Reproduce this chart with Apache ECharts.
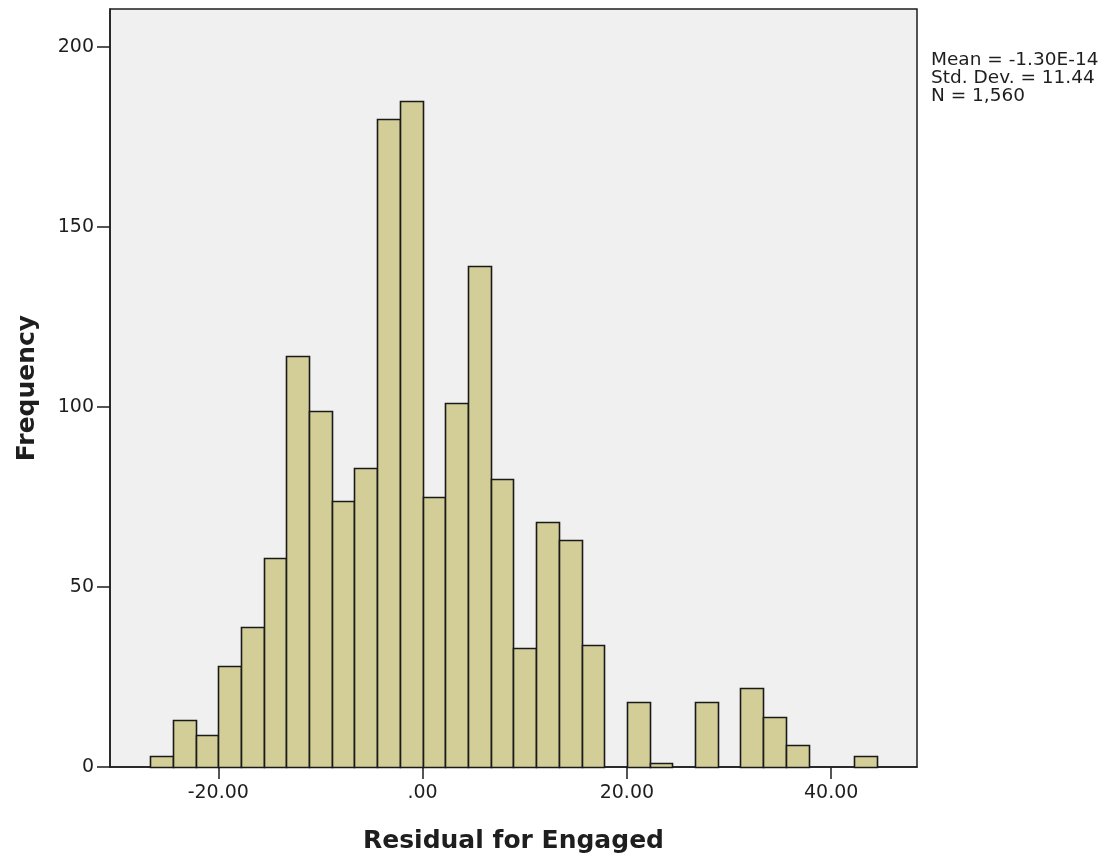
<!DOCTYPE html>
<html>
<head>
<meta charset="utf-8">
<title>Residual for Engaged</title>
<script src="https://cdn.jsdelivr.net/npm/echarts@6/dist/echarts.min.js"></script>
<style>
  html, body { margin: 0; padding: 0; background: #ffffff; }
  #chart { width: 1110px; height: 865px; }
</style>
</head>
<body>
<div id="chart"></div>
<script>
// Histogram bins: lower and upper edges of each bin, and the count in it
const binLower = [-26.67, -24.44, -22.22, -20.00, -17.78, -15.56, -13.33, -11.11,
                  -8.89, -6.67, -4.44, -2.22, 0.00, 2.22, 4.44, 6.67,
                  8.89, 11.11, 13.33, 15.56, 17.78, 20.00, 22.22, 24.44,
                  26.67, 28.89, 31.11, 33.33, 35.56, 37.78, 40.00, 42.22];
const binUpper = [-24.44, -22.22, -20.00, -17.78, -15.56, -13.33, -11.11, -8.89,
                  -6.67, -4.44, -2.22, 0.00, 2.22, 4.44, 6.67, 8.89,
                  11.11, 13.33, 15.56, 17.78, 20.00, 22.22, 24.44, 26.67,
                  28.89, 31.11, 33.33, 35.56, 37.78, 40.00, 42.22, 44.44];
const frequency = [3, 13, 9, 28, 39, 58, 114, 99,
                   74, 83, 180, 185, 75, 101, 139, 80,
                   33, 68, 63, 34, 0, 18, 1, 0,
                   18, 0, 22, 14, 6, 0, 0, 3];

// Axis ticks
const xTicks = [-20, 0, 20, 40];
const yTicks = [0, 50, 100, 150, 200];

// Summary statistics printed beside the plot
const statLines = ['Mean = -1.30E-14', 'Std. Dev. = 11.44', 'N = 1,560'];

const FONT = '"DejaVu Sans", "Liberation Sans", Arial, sans-serif';
const INK = '#1e1e1e';

const histData = binLower.map((lo, i) => [lo, binUpper[i], frequency[i]]);

const chart = echarts.init(document.getElementById('chart'), null, { renderer: 'canvas' });

chart.setOption({
  animation: false,
  backgroundColor: '#ffffff',
  grid: {
    left: 110, right: 193, top: 9, bottom: 98,
    show: true,
    backgroundColor: '#f0f0f0',
    borderColor: INK,
    borderWidth: 1.5
  },
  xAxis: {
    type: 'value',
    min: -30.6,
    max: 48.4,
    name: 'Residual for Engaged',
    nameLocation: 'middle',
    nameGap: 62,
    nameTextStyle: { fontFamily: FONT, fontSize: 25, fontWeight: 'bold', color: INK },
    splitLine: { show: false },
    axisLine: { show: true, onZero: false, lineStyle: { color: INK, width: 1.5 } },
    axisTick: {
      show: true, length: 12, inside: false,
      customValues: xTicks,
      lineStyle: { color: INK, width: 1.5 }
    },
    axisLabel: {
      customValues: xTicks,
      margin: 17,
      fontFamily: FONT, fontSize: 19, color: INK,
      formatter: v => (v === 0 ? '.00' : v.toFixed(2))
    }
  },
  yAxis: {
    type: 'value',
    min: 0,
    max: 210.5,
    name: 'Frequency',
    nameLocation: 'middle',
    nameGap: 70,
    nameRotate: 90,
    nameTextStyle: { fontFamily: FONT, fontSize: 25, fontWeight: 'bold', color: INK },
    splitLine: { show: false },
    axisLine: { show: true, onZero: false, lineStyle: { color: INK, width: 1.5 } },
    axisTick: {
      show: true, length: 13, inside: false,
      customValues: yTicks,
      lineStyle: { color: INK, width: 1.5 }
    },
    axisLabel: {
      customValues: yTicks,
      margin: 16,
      fontFamily: FONT, fontSize: 19, color: INK
    }
  },
  graphic: [{
    type: 'text',
    left: 931,
    top: 51,
    style: {
      text: statLines.join('\n'),
      fontFamily: FONT,
      fontSize: 18.5,
      lineHeight: 18,
      fill: INK
    }
  }],
  series: [{
    type: 'custom',
    data: histData,
    encode: { x: [0, 1], y: 2 },
    renderItem: function (params, api) {
      const count = api.value(2);
      if (!count) return null;
      const p0 = api.coord([api.value(0), 0]);
      const p1 = api.coord([api.value(1), count]);
      return {
        type: 'rect',
        shape: {
          x: Math.round(p0[0]) + 0.5,
          y: Math.round(p1[1]) + 0.5,
          width: Math.round(p1[0]) - Math.round(p0[0]),
          height: Math.round(p0[1]) - Math.round(p1[1])
        },
        style: {
          fill: '#d3ce97',
          stroke: '#1a1a1a',
          lineWidth: 1.6
        }
      };
    }
  }]
});
</script>
</body>
</html>
